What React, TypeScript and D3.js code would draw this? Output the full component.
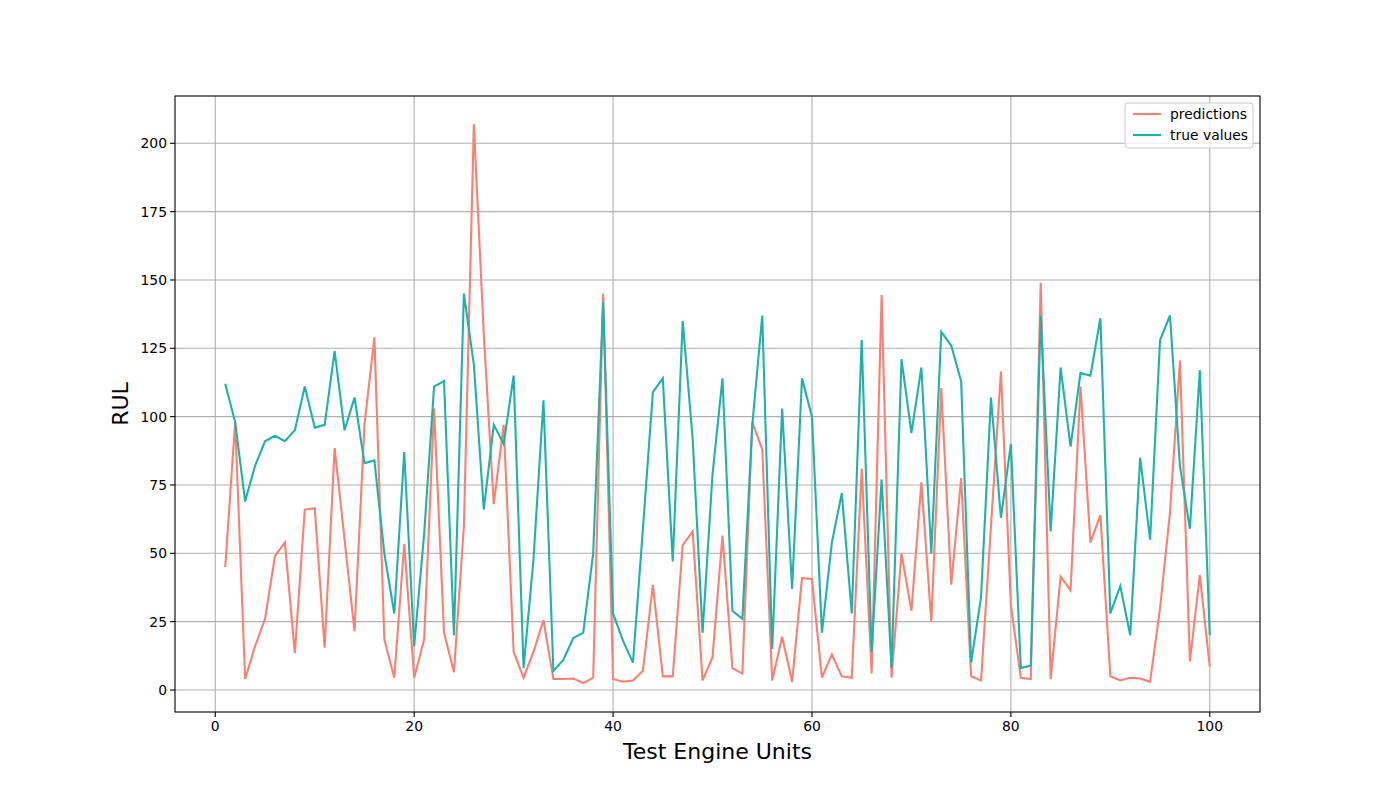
import * as d3 from "d3";

const trueValues = [
  112, 98, 69, 82, 91, 93, 91, 95, 111, 96, 97, 124, 95, 107, 83, 84, 50, 28, 87, 16,
  57, 111, 113, 20, 145, 119, 66, 97, 90, 115, 8, 48, 106, 7, 11, 19, 21, 50, 142, 28,
  18, 10, 59, 109, 114, 47, 135, 92, 21, 79, 114, 29, 26, 97, 137, 15, 103, 37, 114, 100,
  21, 54, 72, 28, 128, 14, 77, 8, 121, 94, 118, 50, 131, 126, 113, 10, 34, 107, 63, 90,
  8, 9, 137, 58, 118, 89, 116, 115, 136, 28, 38, 20, 85, 55, 128, 137, 82, 59, 117, 20,
];

const predictions = [
  45, 98, 4, 16, 26, 49, 54, 13.5, 66, 66.5, 15.5, 88.5, 55, 21.5, 97, 129, 18.5, 4.5, 53.5, 4.5,
  18.5, 103, 21, 6.5, 60, 207, 130, 68, 97, 14, 4.5, 14, 25.5, 4, 4, 4.2, 2.5, 4.5, 145, 4,
  3, 3.5, 7, 38.5, 5, 5, 53, 58, 3.5, 12, 56.5, 8, 6, 98, 88, 3.5, 19.5, 3, 41, 40.5,
  4.5, 13, 5, 4.5, 81, 6, 144.5, 4.5, 50, 29, 76, 25, 110.5, 38.5, 77.5, 5, 3.5, 60, 116.5, 31,
  4.5, 4, 149, 4, 41.5, 36.5, 111, 54, 64, 5, 3.5, 4.5, 4.2, 3, 30, 65, 120.5, 10.5, 42, 8.5,
];

const xTicks = [0, 20, 40, 60, 80, 100];
const yTicks = [0, 25, 50, 75, 100, 125, 150, 175, 200];

const W = 1400;
const H = 800;
const M = { left: 175, right: 1260, top: 96, bottom: 712 };
const font = "DejaVu Sans, sans-serif";

export default function App() {
  const x = d3.scaleLinear().domain([-4.05, 105.05]).range([M.left, M.right]);
  const y = d3.scaleLinear().domain([-8.05, 217.3]).range([M.bottom, M.top]);
  const line = d3
    .line<number>()
    .x((_, i) => x(i + 1))
    .y((d) => y(d));

  return (
    <svg
      width={W}
      height={H}
      style={{ position: "absolute", left: 0, top: 0, background: "#fff" }}
      fontFamily={font}
    >
      {xTicks.map((t) => (
        <line key={"gx" + t} x1={x(t)} x2={x(t)} y1={M.top} y2={M.bottom} stroke="#b0b0b0" strokeWidth={1.1} />
      ))}
      {yTicks.map((t) => (
        <line key={"gy" + t} x1={M.left} x2={M.right} y1={y(t)} y2={y(t)} stroke="#b0b0b0" strokeWidth={1.1} />
      ))}
      <path d={line(predictions) ?? ""} fill="none" stroke="#fa8072" strokeWidth={2.1} />
      <path d={line(trueValues) ?? ""} fill="none" stroke="#20b2aa" strokeWidth={2.1} />
      <rect x={M.left} y={M.top} width={M.right - M.left} height={M.bottom - M.top} fill="none" stroke="#000" strokeWidth={1.1} />
      {xTicks.map((t) => (
        <g key={"tx" + t}>
          <line x1={x(t)} x2={x(t)} y1={M.bottom} y2={M.bottom + 4.9} stroke="#000" strokeWidth={1.1} />
          <text x={x(t)} y={M.bottom + 19} textAnchor="middle" fontSize={13.9}>{t}</text>
        </g>
      ))}
      {yTicks.map((t) => (
        <g key={"ty" + t}>
          <line x1={M.left - 4.9} x2={M.left} y1={y(t)} y2={y(t)} stroke="#000" strokeWidth={1.1} />
          <text x={M.left - 8} y={y(t) + 5} textAnchor="end" fontSize={13.9}>{t}</text>
        </g>
      ))}
      <text x={(M.left + M.right) / 2} y={759} textAnchor="middle" fontSize={22}>Test Engine Units</text>
      <text transform={`translate(128,${(M.top + M.bottom) / 2}) rotate(-90)`} textAnchor="middle" fontSize={22}>RUL</text>
      <g transform="translate(1125,103)">
        <rect width={128} height={45} rx={3} fill="#fff" fillOpacity={0.8} stroke="#ccc" />
        <line x1={8} x2={36} y1={11} y2={11} stroke="#fa8072" strokeWidth={2.1} />
        <text x={45} y={16} fontSize={13.9}>predictions</text>
        <line x1={8} x2={36} y1={32} y2={32} stroke="#20b2aa" strokeWidth={2.1} />
        <text x={45} y={37} fontSize={13.9}>true values</text>
      </g>
    </svg>
  );
}
